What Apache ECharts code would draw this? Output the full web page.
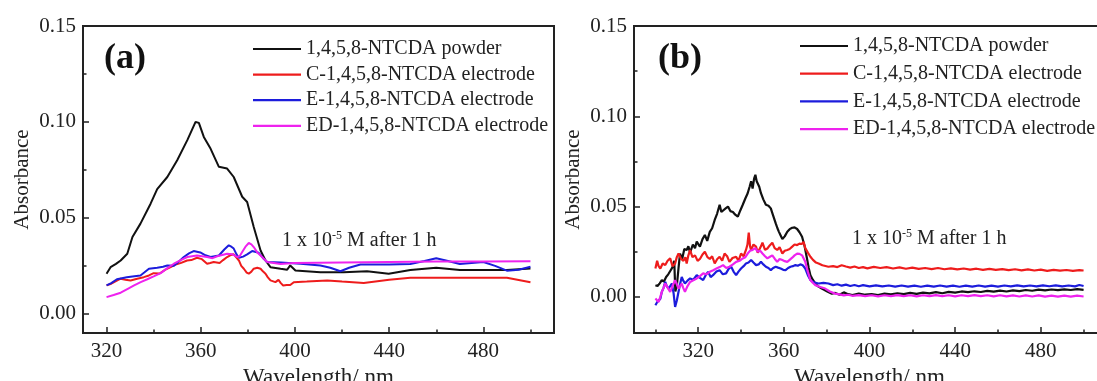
<!DOCTYPE html>
<html>
<head>
<meta charset="utf-8">
<script src="https://cdn.jsdelivr.net/npm/echarts@6/dist/echarts.min.js"></script>
<style>
html,body{margin:0;padding:0;background:#fff;}
#chart{width:1097px;height:381px;}
</style>
</head>
<body>
<div id="chart"></div>
<script>
// ---------- DATA ----------
const seriesNames = ['1,4,5,8-NTCDA powder','C-1,4,5,8-NTCDA electrode','E-1,4,5,8-NTCDA electrode','ED-1,4,5,8-NTCDA electrode'];
const seriesColors = ['#111111','#ee1c1c','#1c1cdc','#ee22ee'];

const xTicksMajor = [320,360,400,440,480];
const xTicksMinorA = [340,380,420,460,500];
const xTicksMinorB = [300,340,380,420,460,500];
const yTicksMajor = [0,0.05,0.10,0.15];
const yTicksMinor = [0.025,0.075,0.125];

// Panel (a)  [wavelength nm, absorbance]
const aPowder = [[320,.0209],[321.7,.0243],[324,.026],[326,.0278],[328.8,.0313],[331,.040],[334.4,.047],[338.7,.0574],[341.5,.065],[345.8,.0713],[350,.080],[354.3,.0905],[357.8,.100],[359.2,.0995],[361.3,.0922],[364.2,.086],[367.7,.0766],[371.2,.0757],[374,.0713],[377.6,.061],[379.7,.0583],[382.5,.0452],[385.4,.033],[387.5,.0278],[389.6,.0243],[393.9,.0235],[396.7,.023],[398,.0252],[400.2,.0226],[410.8,.0217],[420.7,.0217],[430.6,.0222],[439.8,.0209],[449,.0228],[460,.024],[470,.0228],[480,.0228],[490,.0228],[500,.0236]];
const aC = [[320,.0148],[322,.0157],[324,.017],[326,.0183],[328,.0178],[330.2,.0174],[333,.0183],[335.8,.0191],[338,.020],[340,.0212],[342.5,.021],[345,.023],[347.2,.0243],[349,.0255],[351.4,.0264],[354.2,.0278],[356,.028],[358.4,.0292],[360.5,.0285],[362.7,.0261],[364,.0265],[365.5,.027],[368,.0265],[369.5,.028],[371.2,.0296],[372.5,.0305],[374,.031],[375,.0295],[376.2,.0278],[377.2,.025],[378.3,.0235],[379.5,.0215],[380.4,.0209],[381.5,.022],[382.5,.0235],[384,.024],[385.4,.0235],[386.5,.022],[387.5,.0209],[388.5,.019],[389.6,.0174],[391.7,.0165],[393,.0177],[394,.016],[395,.0148],[396.5,.015],[398,.015],[399.5,.0165],[405,.0168],[413.7,.0174],[420,.0168],[429.2,.016],[440,.0178],[449,.0188],[460,.0188],[470,.0188],[480,.0188],[490,.0188],[500,.0165]];
const aE = [[320,.0148],[322,.016],[324.4,.018],[326.5,.0185],[328.6,.019],[331,.0195],[334.4,.020],[336,.0215],[338,.0235],[341.5,.024],[344,.0245],[345.8,.0252],[348.6,.025],[350.5,.027],[352.8,.0296],[355,.0315],[357,.0327],[359.8,.032],[362,.0305],[364.2,.0296],[367.7,.0304],[370,.0335],[371.9,.0357],[373,.035],[374,.034],[375.2,.031],[376.2,.0292],[378,.0298],[379.7,.031],[381.8,.0327],[384.6,.0318],[386.5,.029],[388.2,.027],[393.9,.0267],[402.4,.0261],[410.8,.0252],[415,.024],[419.3,.0222],[423,.024],[427.8,.0257],[440,.0257],[449,.026],[455,.0275],[460,.029],[465,.0275],[470,.026],[475,.0265],[480,.027],[485,.025],[490,.0225],[495,.023],[500,.0245]];
const aED = [[320,.0087],[323,.0098],[326,.011],[329,.013],[331.7,.0148],[334.5,.0165],[337.3,.018],[340,.0195],[343,.0212],[345.8,.0238],[348.6,.0261],[351.5,.028],[354.3,.0296],[358.4,.0304],[362.7,.0296],[365,.029],[367,.030],[371.2,.0313],[373.5,.031],[375.4,.0296],[376.5,.030],[377.6,.0322],[379,.035],[380.4,.0369],[381.5,.0362],[382.5,.0348],[384,.032],[385.4,.0304],[388.2,.027],[393.9,.026],[399.5,.0265],[420,.0268],[440,.027],[460,.0272],[480,.0273],[500,.0274]];

// Panel (b)  [wavelength nm, absorbance]
const bPowder = [[300,.0065],[301,.006],[302,.0075],[303,.0093],[304,.0085],[305,.011],[306,.0125],[307,.0145],[308,.0165],[308.8,.020],[309.3,.003],[310,.006],[310.8,.016],[311.5,.024],[312.5,.021],[313.5,.0265],[314.6,.026],[315.4,.028],[316.2,.0245],[317.5,.029],[318.5,.027],[319.3,.0306],[320.8,.0278],[322,.032],[323.1,.0343],[324.2,.031],[325.4,.036],[326.5,.038],[327.7,.0426],[328.8,.046],[330,.051],[330.8,.047],[331.6,.046],[332.8,.049],[333.9,.050],[335,.0475],[336.2,.047],[337.3,.0455],[338.5,.0444],[339.7,.048],[340.8,.051],[342,.0545],[343.1,.0574],[344,.061],[344.7,.064],[345.4,.060],[346.1,.0655],[346.7,.0676],[347.3,.064],[347.8,.063],[348.5,.061],[349.3,.0574],[350.4,.054],[351.6,.051],[352.8,.0505],[353.9,.049],[355,.045],[356.2,.0407],[357,.038],[357.7,.036],[358.5,.034],[359.3,.032],[360.4,.0335],[361.6,.0361],[362.7,.0375],[363.9,.0383],[365,.0385],[366.2,.0376],[367.3,.0358],[368.5,.0333],[369.7,.028],[370.8,.0213],[371.6,.016],[372.4,.012],[373.5,.0095],[374.7,.0074],[376,.0058],[377.7,.0046],[379,.0038],[380.5,.0028],[382.4,.0018],[384,.0022],[386,.0012],[388,.0025],[390,.0015],[392,.001],[395,.0018],[398,.0012],[401,.0015],[404,.001],[407,.0018],[410,.0014],[413,.002],[416,.0015],[419,.0022],[422,.0017],[425,.0024],[428,.0019],[431,.0026],[434,.002],[437,.0028],[440,.0024],[443,.003],[446,.0026],[449,.0031],[452,.0027],[455,.0033],[458,.0029],[461,.0035],[464,.003],[467,.0036],[470,.0032],[473,.0038],[476,.0034],[479,.004],[482,.0036],[485,.0041],[488,.0037],[491,.0042],[494,.0038],[497,.0043],[500,.0039]];
const bC = [[300,.0157],[300.8,.020],[301.5,.017],[302.3,.0157],[303.4,.0185],[304.6,.0176],[305.7,.020],[306.9,.0213],[308,.017],[309.2,.0185],[310,.022],[310.8,.024],[312,.021],[313.1,.020],[314,.022],[314.6,.0185],[315.4,.023],[316.2,.0259],[317.3,.022],[318.5,.023],[319.7,.020],[320.8,.021],[322,.0235],[323.1,.025],[324.3,.022],[325.4,.021],[326.5,.0225],[327.7,.0185],[328.9,.021],[330,.0222],[331.2,.020],[332.3,.024],[333.5,.0225],[334.6,.0194],[336,.0215],[337.7,.0222],[338.8,.020],[340,.024],[341.2,.0225],[342.3,.026],[343,.029],[343.6,.0356],[344.2,.028],[344.7,.026],[345.8,.029],[347,.0278],[347.8,.0245],[348.5,.025],[349.3,.028],[350,.030],[351.2,.026],[352.3,.0268],[353.4,.0285],[354.6,.030],[355.7,.027],[356.9,.026],[358,.0275],[359.3,.024],[360.4,.0255],[361.6,.026],[362.7,.0265],[363.9,.0278],[365,.029],[366.2,.0287],[367.3,.0295],[368.5,.0293],[369.2,.0305],[370,.027],[371.2,.0245],[372.4,.0222],[373.6,.0205],[375,.019],[376.2,.0185],[378,.0175],[380.8,.0167],[383,.017],[385,.0165],[387,.0175],[389,.0168],[391,.0162],[393,.0168],[395,.016],[397,.0165],[399,.0158],[402,.0166],[405,.016],[408,.0165],[411,.0157],[414,.0163],[417,.0156],[420,.0162],[423,.0155],[426,.016],[429,.0154],[432,.016],[435,.0153],[438,.0158],[441,.0152],[444,.0157],[447,.0151],[450,.0156],[453,.015],[456,.0155],[459,.015],[462,.0154],[465,.0148],[468,.0153],[471,.0147],[474,.0152],[477,.0146],[480,.0151],[483,.0144],[486,.015],[489,.0145],[492,.0149],[495,.0144],[498,.0148],[500,.0146]];
const bE = [[300,-.0046],[300.8,-.003],[301.5,-.0028],[302.3,-.001],[303,.0028],[303.8,.005],[304.6,.0083],[305.3,.006],[306.1,.0046],[306.9,.006],[307.7,.0074],[308.5,.002],[309.2,-.0056],[310,-.002],[310.8,.0028],[311.5,.007],[312.3,.011],[313,.009],[313.8,.0074],[315,.009],[316.2,.0102],[317.7,.0095],[319.3,.012],[320.8,.0105],[322.3,.0093],[323.5,.012],[324.6,.0139],[325.8,.011],[326.9,.012],[328.5,.014],[330,.0148],[331.5,.0125],[333,.013],[334.2,.0155],[335.4,.0167],[336.5,.014],[337.7,.012],[338.8,.014],[340,.0157],[341.2,.017],[342.3,.0185],[343.5,.019],[344.7,.0204],[345.8,.019],[347,.0176],[348.2,.018],[349.3,.0194],[350.4,.018],[351.6,.0167],[352.8,.016],[353.9,.0148],[355,.016],[356.2,.0167],[357.3,.0162],[358.5,.0157],[359.7,.015],[360.8,.0148],[362,.016],[363.1,.0167],[364.2,.017],[365.4,.0176],[366.5,.0172],[367.7,.018],[368.8,.0175],[370,.0157],[371.2,.012],[372.4,.0093],[374,.008],[376.2,.0074],[378.5,.0078],[380.8,.0074],[383,.0065],[385,.007],[387,.0062],[389,.0068],[391,.006],[393,.0066],[395,.0059],[397,.0065],[400,.0058],[403,.0064],[406,.0058],[409,.0063],[412,.0057],[415,.0063],[418,.0057],[421,.0062],[424,.0056],[427,.0062],[430,.0057],[433,.0063],[436,.0057],[439,.0062],[442,.0056],[445,.0062],[448,.0057],[451,.0063],[454,.0057],[457,.0062],[460,.0057],[463,.0063],[466,.0058],[469,.0064],[472,.0058],[475,.0063],[478,.0058],[481,.0064],[484,.0059],[487,.0064],[490,.0058],[493,.0063],[496,.0058],[498,.0066],[500,.006]];
const bED = [[300,-.0009],[300.8,-.002],[301.5,-.0028],[302.3,.000],[303,.0028],[303.8,.005],[304.6,.0074],[305.8,.005],[306.9,.0028],[308,.006],[309.2,.0093],[310,.007],[310.8,.0046],[311.5,.006],[312.3,.0074],[313,.005],[313.8,.0028],[315,.006],[316.2,.0083],[317.7,.0092],[319.3,.0102],[320.8,.0115],[322.3,.013],[323.8,.0125],[325.4,.0139],[327,.0148],[328.5,.0157],[330,.0165],[331.6,.0176],[333.1,.016],[334.6,.0167],[336.2,.018],[337.7,.0194],[339.3,.020],[340.8,.0213],[342,.022],[343.1,.024],[344.2,.0255],[345.4,.026],[346.6,.027],[347.8,.025],[349,.0255],[350,.024],[351.2,.0225],[352.3,.0213],[353.5,.0222],[354.6,.023],[355.8,.021],[356.9,.0194],[358,.021],[359.3,.0204],[360.4,.0198],[361.6,.0194],[362.7,.0205],[363.9,.0217],[365,.023],[366.2,.024],[367.3,.0238],[368.5,.023],[369.3,.022],[370,.0194],[371.2,.014],[372.4,.0093],[373.5,.0078],[374.7,.0065],[377,.0055],[379.3,.0046],[381.5,.003],[383.9,.0018],[386,.0014],[388,.0008],[390,.0012],[392,.0006],[395,.001],[398,.0004],[401,.0009],[404,.0003],[407,.0009],[410,.0004],[413,.001],[416,.0004],[419,.0009],[422,.0003],[425,.0009],[428,.0004],[431,.001],[434,.0004],[437,.0009],[440,.0003],[443,.0009],[446,.0004],[449,.001],[452,.0004],[455,.0009],[458,.0003],[461,.0009],[464,.0003],[467,.0008],[470,.0002],[473,.0008],[476,.0002],[479,.0008],[482,.0001],[485,.0007],[488,.0001],[491,.0007],[494,.0001],[497,.0007],[500,.0002]];

const panelTags = ['(a)','(b)'];
const noteText = ['1 x 10','-5',' M after 1 h'];

// ---------- CHART ----------
const FONT = "'Liberation Serif','Times New Roman',serif";
const INK = '#222';
const chart = echarts.init(document.getElementById('chart'), null, {renderer:'canvas'});

function gridCfg(left){
  return {left:left, top:26, width:471, height:307, show:true, borderColor:INK, borderWidth:2,
          backgroundColor:'transparent', containLabel:false, outerBoundsMode:'none'};
}
function xMain(gi, min, max){
  return {type:'value', gridIndex:gi, min:min, max:max, position:'bottom',
    axisLine:{show:false, onZero:false}, splitLine:{show:false},
    axisTick:{show:true, inside:true, length:6, customValues:xTicksMajor, lineStyle:{color:INK,width:1.5}},
    axisLabel:{show:true, customValues:xTicksMajor, margin:8, fontFamily:FONT, fontSize:21, color:INK},
    name:'Wavelength/ nm', nameLocation:'middle', nameGap:27,
    nameTextStyle:{fontFamily:FONT, fontSize:23, color:INK}};
}
function xMinor(gi, min, max, vals){
  return {type:'value', gridIndex:gi, min:min, max:max, position:'bottom',
    axisLine:{show:false, onZero:false}, splitLine:{show:false}, axisLabel:{show:false},
    axisTick:{show:true, inside:true, length:3.5, customValues:vals, lineStyle:{color:INK,width:1.5}}};
}
function yMain(gi, min){
  return {type:'value', gridIndex:gi, min:min, max:0.15, position:'left',
    axisLine:{show:false, onZero:false}, splitLine:{show:false},
    axisTick:{show:true, inside:true, length:6, customValues:yTicksMajor, lineStyle:{color:INK,width:1.5}},
    axisLabel:{show:true, customValues:yTicksMajor, margin:7, fontFamily:FONT, fontSize:21, color:INK,
      formatter:v=>v.toFixed(2)},
    name:'Absorbance', nameLocation:'middle', nameGap:50, nameRotate:90,
    nameTextStyle:{fontFamily:FONT, fontSize:21, color:INK}};
}
function yMinor(gi, min){
  return {type:'value', gridIndex:gi, min:min, max:0.15, position:'left',
    axisLine:{show:false, onZero:false}, splitLine:{show:false}, axisLabel:{show:false},
    axisTick:{show:true, inside:true, length:3.5, customValues:yTicksMinor, lineStyle:{color:INK,width:1.5}}};
}
function line(name, data, color, xi, yi, w){
  return {type:'line', name:name, data:data, xAxisIndex:xi, yAxisIndex:yi,
    showSymbol:false, symbol:'none', smooth:false, lineStyle:{color:color, width:w}, itemStyle:{color:color},
    emphasis:{disabled:true}, z:3};
}
function legendCfg(left, top, gap){
  return {orient:'vertical', left:left, top:top, icon:'rect', itemWidth:48, itemHeight:2.2, itemGap:gap,
    selectedMode:false, data:seriesNames,
    textStyle:{fontFamily:FONT, fontSize:20, color:INK, lineHeight:20}};
}
function noteGraphic(x, y){
  return {type:'text', left:x, top:y, z:10, style:{
    text:'{n|'+noteText[0]+'}{s|'+noteText[1]+'}{n|'+noteText[2]+'}',
    rich:{n:{fontFamily:FONT, fontSize:20, fill:INK, lineHeight:22},
          s:{fontFamily:FONT, fontSize:12, fill:INK, verticalAlign:'top', lineHeight:22}}}};
}

const option = {
  animation:false,
  backgroundColor:'#fff',
  grid:[gridCfg(83), gridCfg(634)],
  xAxis:[xMain(0,310,510), xMinor(0,310,510,xTicksMinorA), xMain(1,290,510), xMinor(1,290,510,xTicksMinorB)],
  yAxis:[yMain(0,-0.01), yMinor(0,-0.01), yMain(1,-0.02), yMinor(1,-0.02)],
  legend:[legendCfg(248,34,5.6), legendCfg(795,31,7.7)],
  graphic:[
    {type:'text', left:104, top:41, z:10, style:{text:panelTags[0], fontFamily:FONT, fontSize:36, fontWeight:'bold', fill:'#111'}},
    {type:'text', left:658, top:41, z:10, style:{text:panelTags[1], fontFamily:FONT, fontSize:36, fontWeight:'bold', fill:'#111'}},
    noteGraphic(282, 230),
    noteGraphic(852, 228)
  ],
  series:[
    line(seriesNames[0], aPowder, seriesColors[0], 0, 0, 2),
    line(seriesNames[1], aC, seriesColors[1], 0, 0, 2),
    line(seriesNames[2], aE, seriesColors[2], 0, 0, 2),
    line(seriesNames[3], aED, seriesColors[3], 0, 0, 2),
    line(seriesNames[0], bPowder, seriesColors[0], 2, 2, 2.2),
    line(seriesNames[1], bC, seriesColors[1], 2, 2, 2.2),
    line(seriesNames[2], bE, seriesColors[2], 2, 2, 2.2),
    line(seriesNames[3], bED, seriesColors[3], 2, 2, 2.2)
  ]
};
chart.setOption(option);
</script>
</body>
</html>
